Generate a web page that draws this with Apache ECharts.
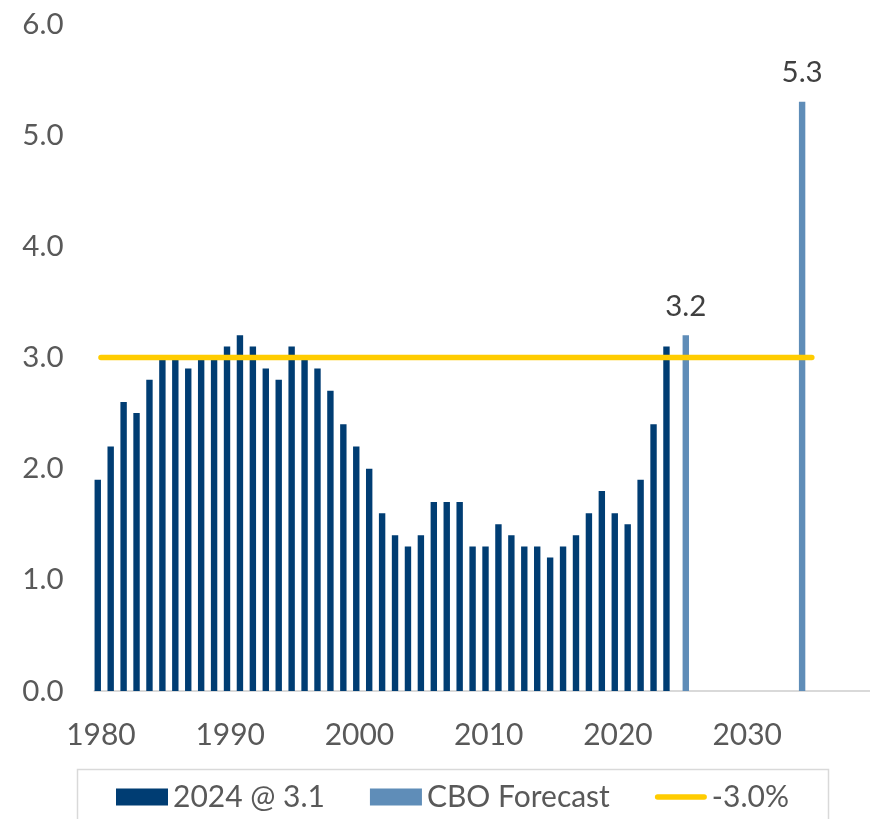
<!DOCTYPE html>
<html>
<head>
<meta charset="utf-8">
<script src="https://cdn.jsdelivr.net/npm/echarts@6/dist/echarts.min.js"></script>
<style>
  html, body { margin: 0; padding: 0; background: #ffffff; }
  #chart { width: 870px; height: 819px; }
</style>
</head>
<body>
<div id="chart"></div>
<script>
// Years on the category axis (1980 through 2039)
const years = [];
for (let y = 1980; y <= 2039; y++) years.push(String(y));

// Actual values, 1980–2024
const actualYears = [
  1980, 1981, 1982, 1983, 1984, 1985, 1986, 1987, 1988, 1989,
  1990, 1991, 1992, 1993, 1994, 1995, 1996, 1997, 1998, 1999,
  2000, 2001, 2002, 2003, 2004, 2005, 2006, 2007, 2008, 2009,
  2010, 2011, 2012, 2013, 2014, 2015, 2016, 2017, 2018, 2019,
  2020, 2021, 2022, 2023, 2024
];
const actualValues = [
  1.9, 2.2, 2.6, 2.5, 2.8, 3.0, 3.0, 2.9, 3.0, 3.0,
  3.1, 3.2, 3.1, 2.9, 2.8, 3.1, 3.0, 2.9, 2.7, 2.4,
  2.2, 2.0, 1.6, 1.4, 1.3, 1.4, 1.7, 1.7, 1.7, 1.3,
  1.3, 1.5, 1.4, 1.3, 1.3, 1.2, 1.3, 1.4, 1.6, 1.8,
  1.6, 1.5, 1.9, 2.4, 3.1
];

// CBO forecast points
const forecastYears = [2025, 2034];
const forecastValues = [3.2, 5.3];

// Reference level, drawn from 1980 to 2035
const refLevel = 3.0;
const refStart = 1980;
const refEnd = 2035;

// Legend names
const seriesNames = ['2024 @ 3.1', 'CBO Forecast', '-3.0%'];

// Y axis ticks
const yMin = 0, yMax = 6, yStep = 1;

function toSeries(ys, vs) {
  const out = years.map(() => null);
  ys.forEach((y, i) => { out[years.indexOf(String(y))] = vs[i]; });
  return out;
}
const actualData = toSeries(actualYears, actualValues);
const forecastData = toSeries(forecastYears, forecastValues);
const refData = years.map(y => (+y >= refStart && +y <= refEnd) ? refLevel : null);

const FONT = 'Lato';
const chart = echarts.init(document.getElementById('chart'), null, { renderer: 'canvas' });

// Thick rounded stroke used as the legend marker of the reference line
const lineIcon = 'path://M2.75,0 L49.25,0 A2.75,2.75 0 0 1 49.25,5.5 L2.75,5.5 A2.75,2.75 0 0 1 2.75,0 Z';

chart.setOption({
  animation: false,
  backgroundColor: '#ffffff',
  textStyle: { fontFamily: FONT },
  grid: { left: 94.5, top: 24, width: 776.4, bottom: 128, containLabel: false },
  xAxis: {
    type: 'category',
    data: years,
    boundaryGap: true,
    axisLine: { show: true, lineStyle: { color: '#d9d9d9', width: 2 } },
    axisTick: { show: false },
    axisLabel: {
      interval: (idx) => idx % 10 === 0 && +years[idx] <= 2030,
      color: '#595959',
      fontFamily: FONT,
      fontSize: 30,
      margin: 29
    },
    splitLine: { show: false }
  },
  yAxis: {
    type: 'value',
    min: yMin, max: yMax, interval: yStep,
    axisLine: { show: false },
    axisTick: { show: false },
    splitLine: { show: false },
    axisLabel: {
      color: '#595959',
      fontFamily: FONT,
      fontSize: 29.5,
      margin: 31,
      formatter: v => v.toFixed(1)
    }
  },
  legend: {
    left: 116,
    top: 782,
    itemWidth: 52,
    itemHeight: 17,
    itemGap: 45,
    padding: 0,
    textStyle: { color: '#595959', fontFamily: FONT, fontSize: 30 },
    data: [
      { name: seriesNames[0], icon: 'rect' },
      { name: seriesNames[1], icon: 'rect' },
      { name: seriesNames[2], icon: lineIcon, itemStyle: { color: '#FFCC00' } }
    ]
  },
  graphic: [{
    type: 'rect',
    shape: { x: 77.5, y: 769.5, width: 751, height: 80 },
    style: { fill: 'none', stroke: '#d9d9d9', lineWidth: 1.5 },
    silent: true
  }],
  series: [
    {
      name: seriesNames[0],
      type: 'bar',
      data: actualData,
      barWidth: 6.4,
      barGap: '0%',
      itemStyle: { color: '#003D73' },
      z: 2
    },
    {
      name: seriesNames[1],
      type: 'bar',
      data: forecastData,
      barWidth: 6.4,
      barGap: '0%',
      itemStyle: { color: '#5F8DB8' },
      label: {
        show: true,
        position: 'top',
        distance: 14,
        color: '#404040',
        fontFamily: FONT,
        fontSize: 29.5,
        formatter: p => p.value == null ? '' : p.value.toFixed(1)
      },
      z: 2
    },
    {
      name: seriesNames[2],
      type: 'line',
      data: refData,
      symbol: 'none',
      showSymbol: false,
      connectNulls: false,
      lineStyle: { color: '#FFCC00', width: 5.5, cap: 'round' },
      itemStyle: { color: '#FFCC00' },
      z: 5
    }
  ]
});
</script>
</body>
</html>
